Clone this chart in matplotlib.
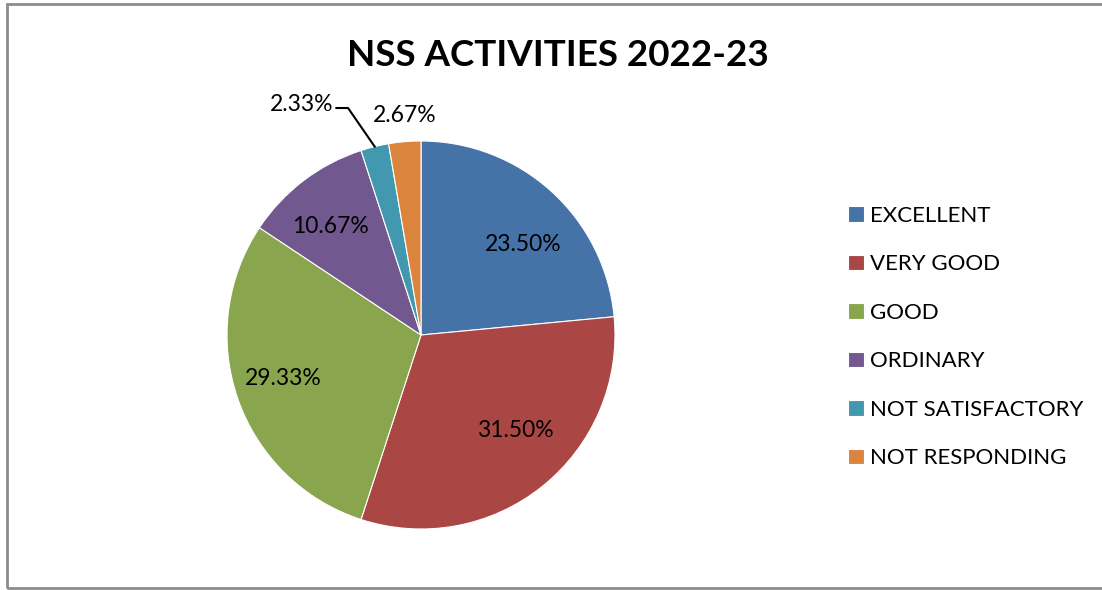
import numpy as np
import matplotlib.pyplot as plt
from matplotlib.patches import Rectangle

# NSS activities feedback 2022-23
categories = ['EXCELLENT', 'VERY GOOD', 'GOOD', 'ORDINARY',
              'NOT SATISFACTORY', 'NOT RESPONDING']
values = [23.50, 31.50, 29.33, 10.67, 2.33, 2.67]
colors = ['#4572A7', '#AA4643', '#89A54E', '#71588F', '#4198AF', '#DB843D']

plt.rcParams['font.family'] = ['Lato', 'DejaVu Sans']

W, H = 1102, 590
fig = plt.figure(figsize=(W / 100, H / 100), dpi=100)

# border around chart area
fig.patches.append(Rectangle((7 / W, 2 / H), 1.2, (586 - 2) / H,
                             transform=fig.transFigure, fill=False,
                             edgecolor='#8c8c8c', linewidth=2))

cx, cy, r = 421, 335, 194
ax = fig.add_axes([(cx - r) / W, (H - cy - r) / H, 2 * r / W, 2 * r / H])
wedges, _ = ax.pie(values, colors=colors, startangle=90, counterclock=False,
                   radius=1, wedgeprops=dict(edgecolor='white', linewidth=0.8))
ax.set_xlim(-1, 1)
ax.set_ylim(-1, 1)
ax.set_aspect('equal')
ax.axis('off')

# label placement (axes data units, pie radius = 1)
lab_pos = [(0.526, 0.464), (0.485, -0.490), (-0.711, -0.222),
           (-0.469, 0.557), None, (-0.082, 1.129)]
for i, w in enumerate(wedges):
    txt = '%.2f%%' % values[i]
    if lab_pos[i] is not None:
        ax.text(lab_pos[i][0], lab_pos[i][1], txt, ha='center', va='center',
                fontsize=16.5, color='black')
    else:
        # leader line for the tiny slice
        mid = np.deg2rad((w.theta1 + w.theta2) / 2)
        ex, ey = np.cos(mid), np.sin(mid)
        bx, by = -0.376, 1.17
        ax.plot([ex, bx, bx - 0.06], [ey, by, by], color='black', lw=1.5,
                clip_on=False)
        ax.text(bx - 0.075, by + 0.02, txt, ha='right', va='center',
                fontsize=16.5, color='black')

fig.text(558 / W, 1 - 55 / H, 'NSS ACTIVITIES 2022-23', ha='center',
         va='center', fontsize=26.5, fontweight='bold')

leg = fig.legend(wedges, categories, loc='upper left',
                 bbox_to_anchor=(828 / W, 1 - 186 / H), frameon=False,
                 fontsize=16, handlelength=0.7, handleheight=0.7,
                 handletextpad=0.3, labelspacing=1.28)

fig.savefig('out.png', dpi=100)
